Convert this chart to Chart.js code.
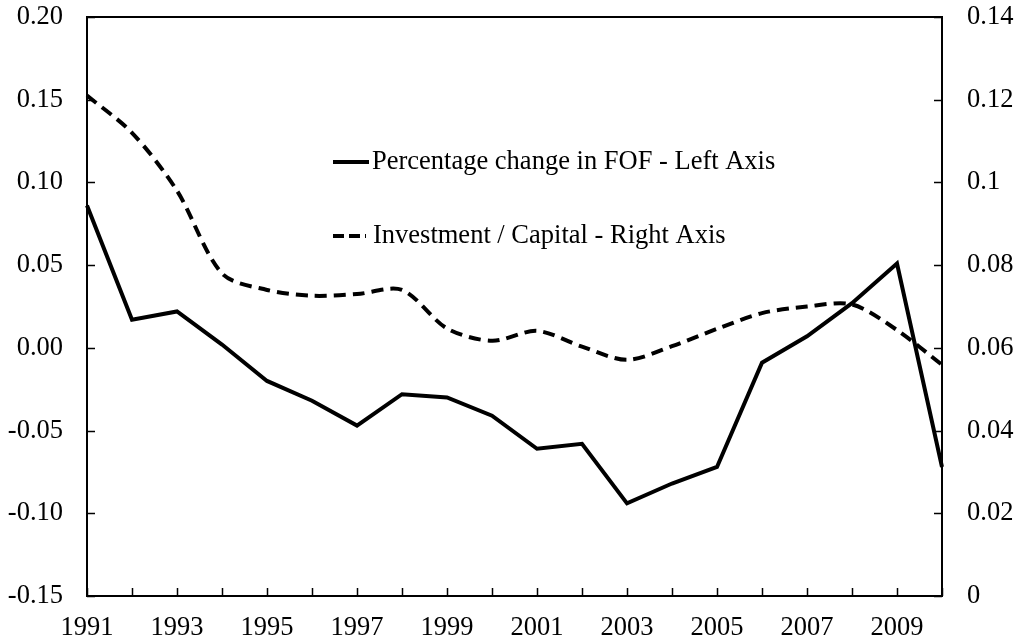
<!DOCTYPE html>
<html>
<head>
<meta charset="utf-8">
<script src="https://cdn.jsdelivr.net/npm/chart.js@4"></script>
<style>
  body { margin: 0; background: #fff; }
  canvas { display: block; }
</style>
</head>
<body>
<canvas id="myChart" width="1017" height="642"></canvas>
<script>
  const years = ['1991', '1992', '1993', '1994', '1995', '1996', '1997', '1998', '1999', '2000',
                 '2001', '2002', '2003', '2004', '2005', '2006', '2007', '2008', '2009', '2010'];
  const fofChange = [0.086, 0.017, 0.022, 0.002, -0.020, -0.032, -0.047, -0.028, -0.030, -0.041,
                     -0.061, -0.058, -0.094, -0.082, -0.072, -0.009, 0.007, 0.027, 0.051, -0.072];
  const investCapital = [0.121, 0.112, 0.098, 0.078, 0.074, 0.0726, 0.073, 0.074, 0.0647, 0.0617,
                         0.0641, 0.0603, 0.0571, 0.0604, 0.0646, 0.0684, 0.070, 0.0705, 0.0643, 0.0559];
  const leftTicks = { min: -0.15, max: 0.20, step: 0.05 };
  const rightTicks = { min: 0, max: 0.14, step: 0.02 };
  const legendLabels = ['Percentage change in FOF - Left Axis', 'Investment / Capital - Right Axis'];

  const FONT = "'Liberation Serif', 'Times New Roman', serif";
  const FSIZE = 26.5;

  // box round the plot, inward tick marks and the legend inside the plot
  const framePlugin = {
    id: 'frame',
    afterDraw(chart) {
      const ctx = chart.ctx;
      const a = chart.chartArea;
      const sx = chart.scales.x, sy = chart.scales.y, sy2 = chart.scales.y2;
      ctx.save();
      ctx.strokeStyle = '#000';
      ctx.lineWidth = 1.5;
      ctx.beginPath();
      sy.ticks.forEach(t => {
        const y = Math.round(sy.getPixelForValue(t.value)) + 0.5;
        ctx.moveTo(a.left, y); ctx.lineTo(a.left + 8, y);
      });
      sy2.ticks.forEach(t => {
        const y = Math.round(sy2.getPixelForValue(t.value)) + 0.5;
        ctx.moveTo(a.right, y); ctx.lineTo(a.right - 8, y);
      });
      years.forEach((_, i) => {
        const x = Math.round(sx.getPixelForValue(i)) + 0.5;
        ctx.moveTo(x, a.bottom); ctx.lineTo(x, a.bottom - 8);
      });
      ctx.stroke();

      ctx.lineWidth = 2;
      ctx.strokeRect(a.left, a.top, a.right - a.left, a.bottom - a.top);

      // legend
      ctx.font = FSIZE + 'px ' + FONT;
      ctx.fillStyle = '#000';
      ctx.textBaseline = 'middle';
      ctx.lineWidth = 4;
      ctx.beginPath();
      ctx.moveTo(333, 162); ctx.lineTo(369, 162);
      ctx.stroke();
      ctx.fillText(legendLabels[0], 372, 162);
      ctx.setLineDash([11, 5]);
      ctx.beginPath();
      ctx.moveTo(333, 236); ctx.lineTo(366, 236);
      ctx.stroke();
      ctx.setLineDash([]);
      ctx.fillText(legendLabels[1], 373, 236);
      ctx.restore();
    }
  };

  const ctx = document.getElementById('myChart').getContext('2d');
  new Chart(ctx, {
    type: 'line',
    data: {
      labels: years,
      datasets: [{
        label: legendLabels[0],
        data: fofChange,
        yAxisID: 'y',
        borderColor: '#000',
        borderWidth: 4,
        borderJoinStyle: 'miter',
        pointRadius: 0,
        tension: 0
      }, {
        label: legendLabels[1],
        data: investCapital,
        yAxisID: 'y2',
        borderColor: '#000',
        borderWidth: 4,
        borderDash: [12, 7],
        pointRadius: 0,
        tension: 0.3
      }]
    },
    options: {
      responsive: false,
      animation: false,
      devicePixelRatio: 1,
      layout: { padding: { top: 17, left: 0, right: 0, bottom: 0 } },
      plugins: { legend: { display: false }, tooltip: { enabled: false } },
      scales: {
        x: {
          offset: false,
          grid: { display: false, drawTicks: false },
          border: { display: false },
          ticks: {
            autoSkip: false,
            maxRotation: 0,
            padding: 16,
            color: '#000',
            font: { family: FONT, size: FSIZE },
            callback: (v, i) => (i % 2 === 0 && i < years.length - 1) ? years[i] : ''
          },
          afterFit: s => { s.height = 46; s.paddingLeft = 0; s.paddingRight = 0; }
        },
        y: {
          position: 'left',
          min: leftTicks.min,
          max: leftTicks.max,
          grid: { display: false, drawTicks: false },
          border: { display: false },
          ticks: {
            stepSize: leftTicks.step,
            padding: 24,
            color: '#000',
            font: { family: FONT, size: FSIZE },
            callback: v => v.toFixed(2)
          },
          afterFit: s => { s.width = 87; s.paddingTop = 0; s.paddingBottom = 0; }
        },
        y2: {
          position: 'right',
          min: rightTicks.min,
          max: rightTicks.max,
          grid: { display: false, drawTicks: false },
          border: { display: false },
          ticks: {
            stepSize: rightTicks.step,
            padding: 25,
            color: '#000',
            font: { family: FONT, size: FSIZE },
            callback: v => String(Number(v.toFixed(2)))
          },
          afterFit: s => { s.width = 75; s.paddingTop = 0; s.paddingBottom = 0; }
        }
      }
    },
    plugins: [framePlugin]
  });
</script>
</body>
</html>
